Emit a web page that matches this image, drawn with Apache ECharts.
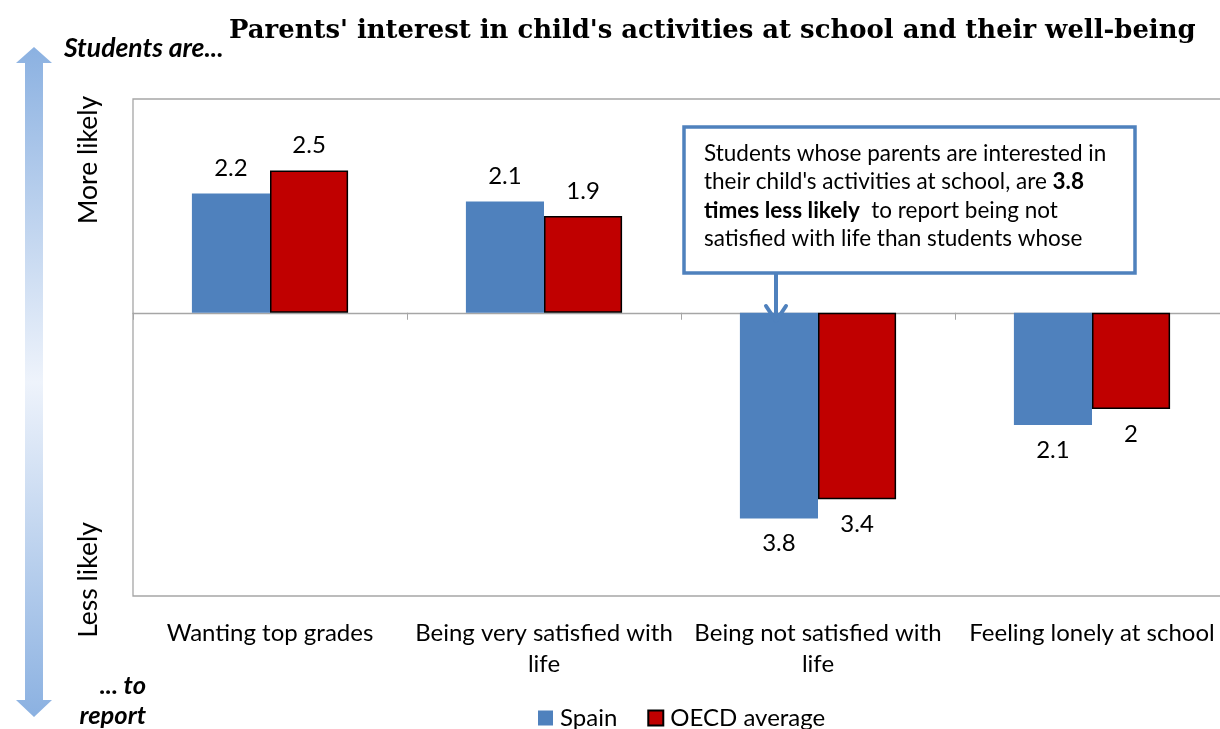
<!DOCTYPE html>
<html>
<head>
<meta charset="utf-8">
<script src="https://cdn.jsdelivr.net/npm/echarts@6/dist/echarts.min.js"></script>
<style>html,body{margin:0;padding:0;background:#fff;}#c{width:1220px;height:729px;}</style>
</head>
<body>
<div id="c"></div>
<script>
const categories = ['Wanting top grades', 'Being very satisfied with\nlife', 'Being not satisfied with\nlife', 'Feeling lonely at school'];
const seriesNames = ['Spain', 'OECD average'];
// bar lengths (positive = more likely, negative = less likely)
const spainValues = [2.23, 2.08, -3.85, -2.10];
const oecdValues = [2.66, 1.81, -3.49, -1.80];
// data labels as printed in the picture
const spainLabels = ['2.2', '2.1', '3.8', '2.1'];
const oecdLabels = ['2.5', '1.9', '3.4', '2'];
const yMin = -5.3, yMax = 4;

const FONT = 'Lato';
const chart = echarts.init(document.getElementById('c'));

function mkData(vals, labels) {
  return vals.map((v, i) => ({
    value: v,
    label: {
      position: v >= 0 ? 'top' : 'bottom',
      formatter: labels[i]
    }
  }));
}

const labelBase = { show: true, fontFamily: FONT, fontSize: 24, color: '#000', distance: 13 };

chart.setOption({
  animation: false,
  backgroundColor: '#fff',
  title: {
    text: "Parents' interest in child's activities at school and their well-being",
    left: 224, top: 13,
    textStyle: { fontFamily: 'DejaVu Serif', fontWeight: 'bold', fontSize: 25.9, color: '#000' }
  },
  legend: {
    data: seriesNames,
    left: 533, top: 701,
    icon: 'rect',
    itemWidth: 15, itemHeight: 15, itemGap: 30,
    textStyle: { fontFamily: FONT, fontSize: 24, color: '#000', padding: [0, 0, 0, 2] }
  },
  grid: { left: 133, top: 99, width: 1096, height: 497, outerBoundsMode: 'none', show: true, borderColor: '#a6a6a6', borderWidth: 1.3, containLabel: false },
  xAxis: [
    {
      type: 'category', data: categories,
      axisLine: { onZero: true, lineStyle: { color: '#a6a6a6', width: 1.3 } },
      axisTick: { show: true, length: 7, lineStyle: { color: '#a6a6a6' } },
      axisLabel: { show: false }
    },
    {
      type: 'category', data: categories, position: 'bottom',
      axisLine: { show: false, onZero: false },
      axisTick: { show: false },
      axisLabel: { show: true, fontFamily: FONT, fontSize: 24, color: '#000', lineHeight: 31, margin: 22, interval: 0 }
    }
  ],
  yAxis: {
    type: 'value', min: yMin, max: yMax,
    axisLine: { show: false }, axisTick: { show: false }, axisLabel: { show: false }, splitLine: { show: false }
  },
  series: [
    {
      name: seriesNames[0], type: 'bar', xAxisIndex: 0,
      data: mkData(spainValues, spainLabels),
      barGap: '0%', barCategoryGap: '43%',
      itemStyle: { color: '#4f81bd' },
      label: labelBase
    },
    {
      name: seriesNames[1], type: 'bar', xAxisIndex: 0,
      data: mkData(oecdValues, oecdLabels),
      barGap: '0%', barCategoryGap: '43%',
      itemStyle: { color: '#c00000', borderColor: '#000', borderWidth: 1.5 },
      label: labelBase
    }
  ],
  graphic: [
    // double-headed gradient arrow on the left
    {
      type: 'polygon', z: 1,
      shape: { points: [[34, 47], [52, 63], [43, 63], [43, 700], [52, 700], [34, 717], [16, 700], [25, 700], [25, 63], [16, 63]] },
      style: {
        fill: new echarts.graphic.LinearGradient(0, 0, 0, 1, [
          { offset: 0, color: '#8bb1e1' },
          { offset: 0.5, color: '#eef3fb' },
          { offset: 1, color: '#8bb1e1' }
        ])
      }
    },
    { type: 'text', x: 64, y: 48, style: { text: 'Students are...', verticalAlign: 'middle', fontFamily: FONT, fontStyle: 'italic', fontWeight: 'bold', fontSize: 26.5, fill: '#000' } },
    { type: 'text', x: 146, y: 686, style: { text: '... to', align: 'right', verticalAlign: 'middle', fontFamily: FONT, fontStyle: 'italic', fontWeight: 'bold', fontSize: 25.5, fill: '#000' } },
    { type: 'text', x: 146, y: 716, style: { text: 'report', align: 'right', verticalAlign: 'middle', fontFamily: FONT, fontStyle: 'italic', fontWeight: 'bold', fontSize: 25.5, fill: '#000' } },
    { type: 'text', x: 88, y: 160, rotation: Math.PI / 2, style: { text: 'More likely', align: 'center', verticalAlign: 'middle', fontFamily: FONT, fontSize: 26.5, fill: '#000' } },
    { type: 'text', x: 88, y: 580, rotation: Math.PI / 2, style: { text: 'Less likely', align: 'center', verticalAlign: 'middle', fontFamily: FONT, fontSize: 26.5, fill: '#000' } },
    // annotation box
    {
      type: 'rect', z: 10,
      shape: { x: 684, y: 127, width: 451, height: 146 },
      style: { fill: '#fff', stroke: '#4f81bd', lineWidth: 3.5 }
    },
    {
      type: 'polyline', z: 10,
      shape: { points: [[776, 273], [776, 320]] },
      style: { stroke: '#4f81bd', lineWidth: 4, fill: null }
    },
    {
      type: 'polyline', z: 10,
      shape: { points: [[766, 306], [776, 321], [786, 306]] },
      style: { stroke: '#4f81bd', lineWidth: 4, fill: null, lineCap: 'round', lineJoin: 'round' }
    },
    {
      type: 'text', z: 11, left: 704, top: 139,
      style: {
        text: "Students whose parents are interested in\ntheir child's activities at school, are {b|3.8}\n{b|times less likely}  to report being not\nsatisfied with life than students whose",
        fontFamily: FONT, fontSize: 22.5, lineHeight: 28.5, fill: '#000',
        rich: { b: { fontFamily: FONT, fontSize: 22.5, fontWeight: 'bold', lineHeight: 28.5, fill: '#000' } }
      }
    }
  ]
});
</script>
</body>
</html>
